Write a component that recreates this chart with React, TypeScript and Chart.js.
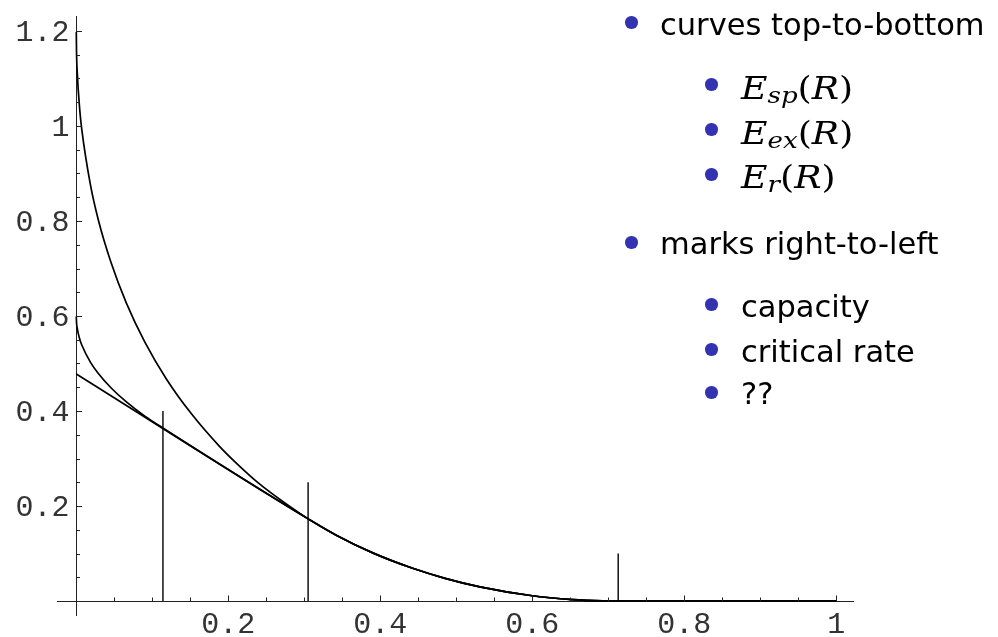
import React, { useEffect, useRef } from 'react';
import { Chart, registerables } from 'chart.js';

Chart.register(...registerables);

// Sphere-packing exponent E_sp(R) for R below the critical rate
const espRate = [0, 0.0003, 0.0012, 0.0046, 0.0072, 0.0185, 0.029, 0.0456, 0.0659, 0.0902, 0.1187, 0.1515, 0.1887, 0.2133, 0.2398, 0.2781, 0.3056];
const espValue = [1.198, 1.156, 1.114, 1.033, 0.993, 0.877, 0.802, 0.713, 0.627, 0.545, 0.467, 0.394, 0.325, 0.286, 0.248, 0.202, 0.1724];

// Expurgated exponent E_ex(R) up to the critical rate
const eexRate = [0, 0.00029, 0.00115, 0.0046, 0.0072, 0.0185, 0.029, 0.0456, 0.0659, 0.0902, 0.1144, 0.3056];
const eexValue = [0.599, 0.587, 0.575, 0.551, 0.539, 0.503, 0.479, 0.449, 0.419, 0.389, 0.3637, 0.1724];

// Random-coding exponent E_r(R), straight part
const erRate = [0, 0.3056];
const erValue = [0.478, 0.1724];

// Common part above the critical rate (all three curves coincide)
const tailRate = [0.342, 0.39, 0.4426, 0.4852, 0.531, 0.5978, 0.653, 0.6927, 0.7136, 1.0];
const tailValue = [0.1385, 0.1013, 0.0688, 0.0477, 0.0298, 0.0116, 0.0031, 0.0004, 0, 0];

// Vertical marks, right-to-left: capacity, critical rate, ??
const markRate = [0.713, 0.305, 0.114];
const markHeight = [0.1, 0.25, 0.4];

// Axis ticks
const xTickValues = [0.2, 0.4, 0.6, 0.8, 1];
const xTickLabels = ['0.2', '0.4', '0.6', '0.8', '1'];
const yTickValues = [0.2, 0.4, 0.6, 0.8, 1, 1.2];
const yTickLabels = ['0.2', '0.4', '0.6', '0.8', '1', '1.2'];
const xMinorTicks = [0.05, 0.1, 0.15, 0.25, 0.3, 0.35, 0.45, 0.5, 0.55, 0.65, 0.7, 0.75, 0.85, 0.9, 0.95];
const yMinorTicks = [0.05, 0.1, 0.15, 0.25, 0.3, 0.35, 0.45, 0.5, 0.55, 0.65, 0.7, 0.75, 0.85, 0.9, 0.95, 1.05, 1.1, 1.15];

const pts = (r: number[], e: number[]) => r.map((v, i) => ({ x: v, y: e[i] }));

const axisDecor = {
  id: 'axisDecor',
  afterDraw(chart: any) {
    const { ctx } = chart;
    const xs = chart.scales.x;
    const ys = chart.scales.y;
    const x0 = Math.round(xs.getPixelForValue(0)) + 0.5;
    const y0 = Math.round(ys.getPixelForValue(0)) + 0.5;
    ctx.save();
    ctx.strokeStyle = '#222';
    ctx.lineWidth = 1;
    ctx.beginPath();
    xMinorTicks.forEach((v) => {
      const px = Math.round(xs.getPixelForValue(v)) + 0.5;
      ctx.moveTo(px, y0);
      ctx.lineTo(px, y0 - 4);
    });
    xTickValues.forEach((v) => {
      const px = Math.round(xs.getPixelForValue(v)) + 0.5;
      ctx.moveTo(px, y0);
      ctx.lineTo(px, y0 - 6);
    });
    yMinorTicks.forEach((v) => {
      const py = Math.round(ys.getPixelForValue(v)) + 0.5;
      ctx.moveTo(x0, py);
      ctx.lineTo(x0 + 3.5, py);
    });
    yTickValues.forEach((v) => {
      const py = Math.round(ys.getPixelForValue(v)) + 0.5;
      ctx.moveTo(x0, py);
      ctx.lineTo(x0 + 5.5, py);
    });
    ctx.stroke();

    ctx.fillStyle = '#333';
    ctx.font = '30px "Liberation Mono", "DejaVu Sans Mono", monospace';
    ctx.textBaseline = 'alphabetic';
    ctx.textAlign = 'center';
    xTickValues.forEach((v, i) => {
      ctx.fillText(xTickLabels[i], xs.getPixelForValue(v), y0 + 31.5);
    });
    ctx.textAlign = 'right';
    yTickValues.forEach((v, i) => {
      ctx.fillText(yTickLabels[i], x0 - 7, ys.getPixelForValue(v) + 9.5);
    });
    ctx.restore();
  },
};

const curveStyle = {
  showLine: true,
  borderColor: '#000',
  borderWidth: 1.7,
  pointRadius: 0,
  pointHoverRadius: 0,
  fill: false,
  cubicInterpolationMode: 'monotone' as const,
};

const markStyle = {
  showLine: true,
  borderColor: '#000',
  borderWidth: 1.4,
  pointRadius: 0,
  pointHoverRadius: 0,
  fill: false,
};

const BLUE = '#3333B2';

function Bullet({ cx, cy }: { cx: number; cy: number }) {
  const d = 12.5;
  return (
    <div
      style={{
        position: 'absolute',
        left: cx - d / 2,
        top: cy - d / 2,
        width: d,
        height: d,
        borderRadius: '50%',
        background: BLUE,
      }}
    />
  );
}

const SANS = 30.5;
const MATH = 31;

function SansText({ x, baseline, text }: { x: number; baseline: number; text: string }) {
  return (
    <div
      style={{
        position: 'absolute',
        left: x,
        top: baseline - 0.846 * SANS,
        fontFamily: '"DejaVu Sans", sans-serif',
        fontSize: SANS,
        lineHeight: SANS + 'px',
        color: '#000',
        whiteSpace: 'nowrap',
      }}
    >
      {text}
    </div>
  );
}

function MathText({ x, baseline, sub }: { x: number; baseline: number; sub: string }) {
  return (
    <div
      style={{
        position: 'absolute',
        left: x,
        top: baseline - 0.846 * MATH,
        fontFamily: '"DejaVu Serif", serif',
        fontSize: MATH,
        lineHeight: MATH + 'px',
        color: '#000',
        whiteSpace: 'nowrap',
        transform: 'scaleX(1.17)',
        transformOrigin: 'left center',
      }}
    >
      <i>E</i>
      <span style={{ fontSize: '0.72em', position: 'relative', top: '0.17em', fontStyle: 'italic' }}>{sub}</span>
      <span>(</span>
      <i>R</i>
      <span>)</span>
    </div>
  );
}

export default function App() {
  const canvasRef = useRef<HTMLCanvasElement | null>(null);

  useEffect(() => {
    if (!canvasRef.current) return;
    const chart = new Chart(canvasRef.current, {
      type: 'scatter',
      data: {
        datasets: [
          { label: 'E_sp', data: pts(espRate, espValue).concat(pts(tailRate, tailValue)), ...curveStyle },
          { label: 'E_ex', data: pts(eexRate, eexValue).concat(pts(tailRate, tailValue)), ...curveStyle },
          { label: 'E_r', data: pts(erRate, erValue).concat(pts(tailRate, tailValue)), ...curveStyle },
          ...markRate.map((r, i) => ({
            label: 'mark' + i,
            data: [
              { x: r, y: 0 },
              { x: r, y: markHeight[i] },
            ],
            ...markStyle,
          })),
        ],
      },
      options: {
        responsive: false,
        animation: false,
        devicePixelRatio: 1,
        layout: { padding: { left: 57.3, right: 144.2, top: 16.75, bottom: 21.75 } },
        plugins: { legend: { display: false }, tooltip: { enabled: false } },
        events: [],
        scales: {
          x: {
            type: 'linear',
            min: -0.025,
            max: 1.023,
            position: { y: 0 },
            ticks: { display: false },
            grid: { display: false, drawTicks: false },
            border: { display: true, color: '#222', width: 1 },
          },
          y: {
            type: 'linear',
            min: -0.03,
            max: 1.23,
            position: { x: 0 },
            ticks: { display: false },
            grid: { display: false, drawTicks: false },
            border: { display: true, color: '#222', width: 1 },
          },
        },
      } as any,
      plugins: [axisDecor],
    });
    return () => chart.destroy();
  }, []);

  return (
    <div style={{ position: 'absolute', left: 0, top: 0, width: 998, height: 637, background: '#fff' }}>
      <canvas ref={canvasRef} width={998} height={637} style={{ display: 'block', width: 998, height: 637 }} />
      <Bullet cx={631.7} cy={22.7} />
      <SansText x={660} baseline={36} text="curves top-to-bottom" />
      <Bullet cx={711.7} cy={84.3} />
      <MathText x={741} baseline={99} sub="sp" />
      <Bullet cx={711.7} cy={129.3} />
      <MathText x={741} baseline={144} sub="ex" />
      <Bullet cx={711.7} cy={174.3} />
      <MathText x={741} baseline={188.3} sub="r" />
      <Bullet cx={631.7} cy={242.7} />
      <SansText x={660} baseline={255} text="marks right-to-left" />
      <Bullet cx={711.7} cy={304.3} />
      <SansText x={741} baseline={318.3} text="capacity" />
      <Bullet cx={711.7} cy={349.3} />
      <SansText x={741} baseline={362.7} text="critical rate" />
      <Bullet cx={711.7} cy={392.7} />
      <SansText x={741} baseline={405} text="??" />
    </div>
  );
}
